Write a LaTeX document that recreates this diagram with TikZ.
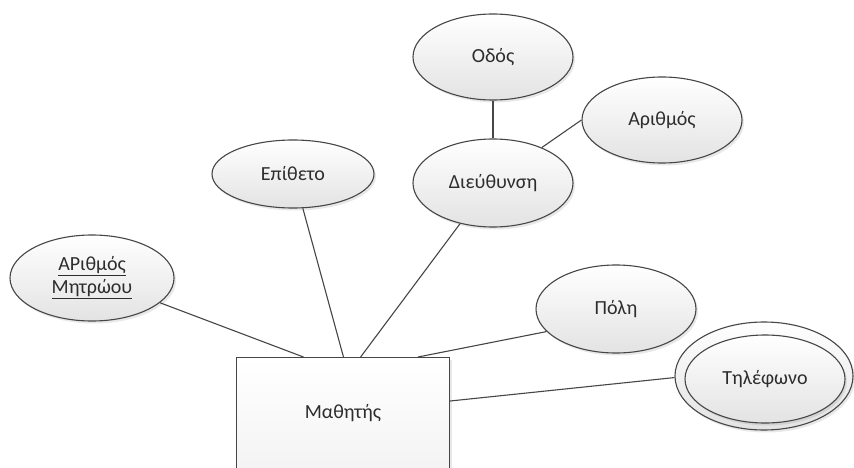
\documentclass[tikz,border=0pt]{standalone}
\usepackage{fontspec}
\setmainfont{Carlito}
\usetikzlibrary{shapes.geometric,shadows,calc}
\definecolor{lncol}{RGB}{70,70,70}
\definecolor{txcol}{RGB}{45,45,45}
\tikzset{
  attr/.style={ellipse, draw=lncol, line width=1.1pt, inner sep=0pt,
    top color=white, bottom color=gray!22, text=txcol,
    font=\fontsize{20}{23}\selectfont, align=center,
    drop shadow={opacity=0.18, shadow xshift=2pt, shadow yshift=-2.5pt}},
  ent/.style={rectangle, draw=lncol, line width=1.1pt, inner sep=0pt,
    top color=white, bottom color=gray!12, text=txcol,
    font=\fontsize{20}{23}\selectfont,
    drop shadow={opacity=0.18, shadow xshift=2pt, shadow yshift=-2.5pt}},
  conn/.style={draw=lncol, line width=1.1pt}
}
\begin{document}
\begin{tikzpicture}[x=1pt,y=-1pt]
\useasboundingbox (0,0) rectangle (854,468);
\clip (0,0) rectangle (854,468);
\fill[white] (0,0) rectangle (854,468);
% entity
\node[ent, minimum width=213pt, minimum height=150pt, anchor=north west] (rect) at (236,357) {};
\node[text=txcol, font=\fontsize{20}{23}\selectfont] (rectlabel) at (343,413) {Μαθητής};
% attributes
\node[attr, minimum width=164pt, minimum height=86pt] (amk) at (92,278) {\underline{ΑΡιθμός}\\\underline{Μητρώου}};
\node[attr, minimum width=162pt, minimum height=68pt] (epi) at (293,174) {Επίθετο};
\node[attr, minimum width=160pt, minimum height=88pt] (dieu) at (493,183) {Διεύθυνση};
\node[attr, minimum width=160pt, minimum height=86pt] (odos) at (493,57) {Οδός};
\node[attr, minimum width=160pt, minimum height=86pt] (arith) at (662,120) {Αριθμός};
\node[attr, minimum width=160pt, minimum height=88pt] (poli) at (616,309) {Πόλη};
\node[attr, minimum width=178pt, minimum height=108pt] (telout) at (764,376) {};
\node[attr, drop shadow={opacity=0}, minimum width=160pt, minimum height=88pt] (tel) at (765,379) {Τηλέφωνο};
% connectors
\draw[conn] (amk.-20) -- ($(rect.north west)!0.315!(rect.north east)$);
\draw[conn] (epi.-74) -- ($(rect.north west)!0.502!(rect.north east)$);
\draw[conn] (dieu.-129) -- ($(rect.north west)!0.582!(rect.north east)$);
\draw[conn] (poli.198) -- ($(rect.north west)!0.85!(rect.north east)$);
\draw[conn] (telout.181) -- ($(rect.north east)+(0,44)$);
\draw[conn] (odos.south) -- (dieu.north);
\draw[conn] (arith.180) -- (dieu.36);
\end{tikzpicture}
\end{document}
